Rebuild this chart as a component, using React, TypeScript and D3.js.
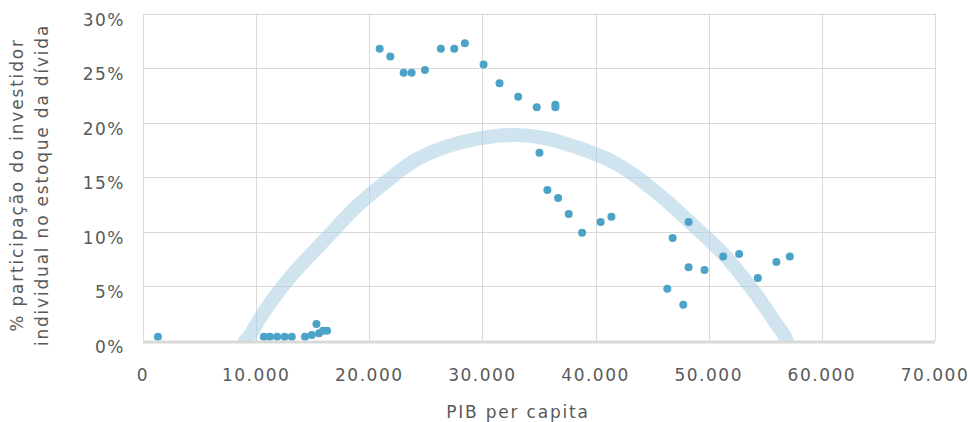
import React from 'react';
import * as d3 from 'd3';

// PIB per capita (x) and investor share (y) for each country
const pibPerCapita = [
  1320, 10680, 11210, 11850, 12510, 13150, 14320, 14920, 15330, 15560, 15910, 16270,
  20920, 21860, 23040, 23740, 24920, 26330, 27510, 28450, 30100, 31510, 33160, 34800,
  36450, 36450, 35040, 35740, 36690, 37630, 38810, 40450, 41400,
  46340, 46810, 47750, 48220, 48220, 49630, 51280, 52690, 54340, 55980, 57170,
];
const participacao = [
  0.0039, 0.0039, 0.0039, 0.0039, 0.0039, 0.0039, 0.0039, 0.0055, 0.0156, 0.0071, 0.0094, 0.0094,
  0.2678, 0.2605, 0.2458, 0.2458, 0.2483, 0.2678, 0.2678, 0.2728, 0.2532, 0.2361, 0.2238, 0.2141,
  0.2165, 0.2141, 0.1725, 0.1384, 0.1310, 0.1164, 0.0992, 0.1090, 0.1139,
  0.0479, 0.0944, 0.0333, 0.1090, 0.0675, 0.0651, 0.0773, 0.0797, 0.0577, 0.0724, 0.0773,
];

// fitted trend
const trendPib = [
  9000, 9400, 10620, 12090, 13570, 15210, 16500, 18560, 20040, 21500, 23860, 26800,
  29740, 32980, 35630, 38570, 41510, 43270, 44750, 46510, 48280, 50040, 51520, 52980,
  54750, 55930, 56660, 56900,
];
const trendShare = [
  0, 0.0045, 0.0254, 0.0467, 0.0651, 0.0834, 0.0975, 0.12, 0.1338, 0.146, 0.1643, 0.178,
  0.1857, 0.1887, 0.1857, 0.1766, 0.1643, 0.153, 0.1414, 0.1262, 0.1093, 0.0925, 0.0772, 0.0589,
  0.0345, 0.0162, 0.0055, 0,
];

const xTicks = [0, 10000, 20000, 30000, 40000, 50000, 60000, 70000];
const yTicks = [0, 0.05, 0.1, 0.15, 0.2, 0.25, 0.3];

const W = 968;
const H = 422;
const left = 143;
const right = 935;
const top = 13.5;
const bottom = 341;

const font = '"DejaVu Sans", sans-serif';
const textColor = '#595959';
const gridColor = '#d9d9d9';

const ptBR = d3.formatLocale({ decimal: ',', thousands: '.', grouping: [3], currency: ['R$', ''] });
const fmtX = ptBR.format(',');

export default function App() {
  const x = d3.scaleLinear().domain([0, 70000]).range([left, right]);
  const y = d3.scaleLinear().domain([0, 0.3]).range([bottom, top]);

  const trend = trendPib.map((p, i) => [p, trendShare[i]] as [number, number]);
  const trendLine = d3.line<[number, number]>()
    .x(d => x(d[0]))
    .y(d => y(d[1]))
    .curve(d3.curveCatmullRom);

  return (
    <svg width={W} height={H} style={{ position: 'absolute', left: 0, top: 0 }}>
      <defs>
        <clipPath id="plot">
          <rect x={left} y={top - 5} width={right - left} height={bottom - top + 5} />
        </clipPath>
      </defs>

      {/* grid */}
      {yTicks.filter(t => t > 0).map(t => (
        <line key={'gy' + t} x1={left} x2={right} y1={Math.round(y(t)) + 0.5} y2={Math.round(y(t)) + 0.5}
          stroke={gridColor} strokeWidth={1} />
      ))}
      {xTicks.map(t => (
        <line key={'gx' + t} x1={Math.round(x(t)) + 0.5} x2={Math.round(x(t)) + 0.5} y1={top} y2={bottom}
          stroke={gridColor} strokeWidth={1} />
      ))}

      {/* trend band */}
      <path d={trendLine(trend) || ''} fill="none" stroke="#a8cde0" strokeOpacity={0.55}
        strokeWidth={14} strokeLinecap="round" strokeLinejoin="round" clipPath="url(#plot)" />

      {/* points */}
      {pibPerCapita.map((p, i) => (
        <circle key={'p' + i} cx={x(p)} cy={y(participacao[i])} r={4} fill="#4ba3c7" />
      ))}

      {/* x axis line */}
      <line x1={left} x2={right} y1={bottom + 1} y2={bottom + 1} stroke={gridColor} strokeWidth={3} />

      {/* tick labels */}
      {yTicks.map(t => (
        <text key={'ty' + t} x={125} y={y(t) + 7} textAnchor="end" dominantBaseline="middle"
          fontFamily={font} fontSize={17} letterSpacing={1.5} fill={textColor}>
          {`${Math.round(t * 100)}%`}
        </text>
      ))}
      {xTicks.map(t => (
        <text key={'tx' + t} x={x(t)} y={376} textAnchor="middle" dominantBaseline="middle"
          fontFamily={font} fontSize={17} letterSpacing={1.5} fill={textColor}>
          {fmtX(t)}
        </text>
      ))}

      {/* axis titles */}
      <text x={518} y={418} textAnchor="middle" fontFamily={font} fontSize={17} letterSpacing={1.8} fill={textColor}>
        PIB per capita
      </text>
      <text transform="translate(23,185) rotate(-90)" textAnchor="middle" fontFamily={font} fontSize={17}
        letterSpacing={1.8} fill={textColor}>
        % participação do investidor
      </text>
      <text transform="translate(48,185) rotate(-90)" textAnchor="middle" fontFamily={font} fontSize={17}
        letterSpacing={1.8} fill={textColor}>
        individual no estoque da dívida
      </text>
    </svg>
  );
}
